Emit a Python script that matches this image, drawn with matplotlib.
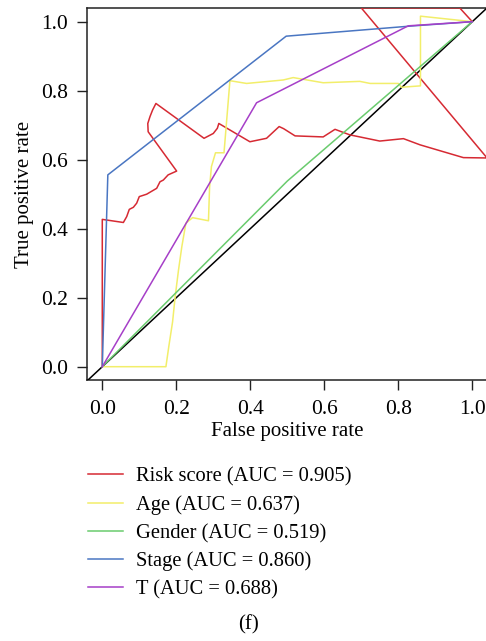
import matplotlib
matplotlib.use('Agg')
from matplotlib import pyplot as plt

plt.rcParams['font.family'] = ['Liberation Serif', 'DejaVu Serif']

# ROC points (false positive rate, true positive rate)
risk_fpr = [0.0, 0.0, 0.057, 0.066, 0.073, 0.084, 0.093, 0.100, 0.120, 0.147, 0.156, 0.165,
            0.178, 0.201, 0.124, 0.123, 0.129, 0.136, 0.145, 0.275, 0.300, 0.311, 0.315,
            0.399, 0.444, 0.478, 0.490, 0.521, 0.597, 0.629, 0.669, 0.750, 0.814, 0.859,
            0.976, 1.040, 0.700, 0.966, 1.0]
risk_tpr = [0.0, 0.427, 0.418, 0.435, 0.456, 0.462, 0.474, 0.493, 0.500, 0.517, 0.536, 0.541,
            0.556, 0.567, 0.681, 0.705, 0.725, 0.744, 0.763, 0.662, 0.676, 0.691, 0.705,
            0.652, 0.662, 0.696, 0.690, 0.669, 0.666, 0.688, 0.672, 0.654, 0.661, 0.643,
            0.606, 0.605, 1.040, 1.040, 1.0]

age_fpr = [0.0, 0.172, 0.180, 0.190, 0.197, 0.206, 0.215, 0.226, 0.244, 0.287, 0.290, 0.295,
           0.306, 0.329, 0.345, 0.390, 0.489, 0.516, 0.597, 0.696, 0.724, 0.800, 0.809,
           0.860, 0.860, 1.0]
age_tpr = [0.0, 0.0, 0.06, 0.13, 0.203, 0.28, 0.348, 0.416, 0.432, 0.423, 0.52, 0.58,
           0.620, 0.620, 0.829, 0.821, 0.831, 0.838, 0.823, 0.827, 0.821, 0.821, 0.810,
           0.814, 1.016, 1.0]

gender_fpr = [0.0, 0.50, 1.0]
gender_tpr = [0.0, 0.538, 1.0]

stage_fpr = [0.0, 0.015, 0.497, 0.830, 1.0]
stage_tpr = [0.0, 0.556, 0.958, 0.987, 1.0]

t_fpr = [0.0, 0.417, 0.827, 1.0]
t_tpr = [0.0, 0.765, 0.988, 1.0]

labels = ['Risk score (AUC = 0.905)', 'Age (AUC = 0.637)', 'Gender (AUC = 0.519)',
          'Stage (AUC = 0.860)', 'T (AUC = 0.688)']
colors = ['#d62a33', '#f2ee6a', '#6acb6e', '#4a76c2', '#a63fc8']

fig = plt.figure(figsize=(4.86, 6.41), dpi=100)
ax = fig.add_axes([0.18, 0.4064, 0.8222, 0.5813])

curves = [(risk_fpr, risk_tpr), (age_fpr, age_tpr), (gender_fpr, gender_tpr),
          (stage_fpr, stage_tpr), (t_fpr, t_tpr)]
handles = []
for (fx, ty), col, lab in zip(curves, colors, labels):
	h, = ax.plot(fx, ty, color=col, lw=1.1, label=lab, zorder=3)
	handles.append(h)
ax.axline((0, 0), (1, 1), color='black', lw=1.1, zorder=2.8)

ax.set_xlim(-0.04, 1.04)
ax.set_ylim(-0.04, 1.04)
ticks = [0.0, 0.2, 0.4, 0.6, 0.8, 1.0]
ax.set_xticks(ticks)
ax.set_yticks(ticks)
ax.set_xticklabels(['%.1f' % t for t in ticks])
ax.set_yticklabels(['%.1f' % t for t in ticks])
ax.tick_params(direction='out', length=7, width=1, color='#222222', labelsize=15.5, pad=7)
for s in ax.spines.values():
	s.set_color('#222222')
	s.set_linewidth(1.1)
ax.set_xlabel('False positive rate', fontsize=15, labelpad=2)
ax.set_ylabel('True positive rate', fontsize=15, labelpad=5)

fig.legend(handles=handles, labels=labels, loc='upper left',
           bbox_to_anchor=(80 / 486, 1 - 459 / 641), frameon=False, fontsize=14.8,
           handlelength=1.7, handletextpad=0.63, labelspacing=0.42, borderaxespad=0)
fig.text(248 / 486, 1 - 625 / 641, '(f)', ha='center', va='center', fontsize=15)

plt.savefig('out.png', dpi=100)
